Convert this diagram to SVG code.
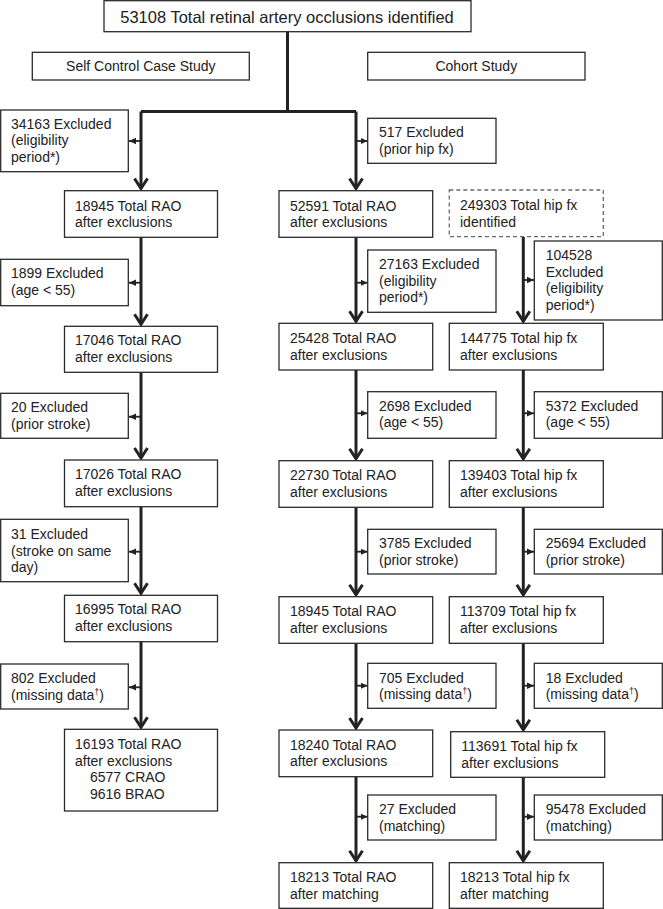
<svg xmlns="http://www.w3.org/2000/svg" width="663" height="909" viewBox="0 0 663 909">
<style>
  .bx { fill: #fff; stroke: #2b2b2b; stroke-width: 1.3; }
  .dash { fill: #fff; stroke: #6a6a6a; stroke-width: 1.3; stroke-dasharray: 4 3; }
  text { font-family: "Liberation Sans", Arial, sans-serif; font-size: 14px; fill: #222; }
  .title { font-size: 16.5px; }
  .mid { text-anchor: middle; }
  .main { stroke: #222; stroke-width: 3; fill: none; }
  .side { stroke: #222; stroke-width: 1.8; fill: none; }
  .sup { font-size: 9px; }
</style>
<defs>
  <marker id="down" markerUnits="userSpaceOnUse" markerWidth="16" markerHeight="18" refX="12" refY="9" orient="auto" viewBox="0 0 16 18">
    <path d="M2,2.5 L12,9 L2,15.5" fill="none" stroke="#222" stroke-width="3" stroke-linejoin="miter"/>
  </marker>
  <marker id="tri" markerUnits="userSpaceOnUse" markerWidth="8" markerHeight="8" refX="7" refY="4" orient="auto" viewBox="0 0 8 8">
    <path d="M0,0.8 L7,4 L0,7.2 Z" fill="#222"/>
  </marker>
</defs>

<g id="connectors">
  <path class="main" d="M287.5,31.7 V111.5 M141,111.5 H356"/>
  <!-- left column -->
  <path class="main" marker-end="url(#down)" d="M141,111.5 V188.5"/>
  <path class="main" marker-end="url(#down)" d="M141,237.3 V324.3"/>
  <path class="main" marker-end="url(#down)" d="M141,372.3 V458"/>
  <path class="main" marker-end="url(#down)" d="M141,506.7 V593.3"/>
  <path class="main" marker-end="url(#down)" d="M141,641.7 V727.3"/>
  <path class="side" marker-end="url(#tri)" d="M141,141 H129"/>
  <path class="side" marker-end="url(#tri)" d="M141,282.7 H129"/>
  <path class="side" marker-end="url(#tri)" d="M141,416.7 H129"/>
  <path class="side" marker-end="url(#tri)" d="M141,551.7 H129"/>
  <path class="side" marker-end="url(#tri)" d="M141,687.3 H129"/>
  <!-- middle column -->
  <path class="main" marker-end="url(#down)" d="M356,111.5 V188.5"/>
  <path class="main" marker-end="url(#down)" d="M356,237.3 V321.3"/>
  <path class="main" marker-end="url(#down)" d="M356,370 V458.7"/>
  <path class="main" marker-end="url(#down)" d="M356,507.3 V594.7"/>
  <path class="main" marker-end="url(#down)" d="M356,643.3 V728"/>
  <path class="main" marker-end="url(#down)" d="M356,776.7 V860.7"/>
  <path class="side" marker-end="url(#tri)" d="M356,141 H367.5"/>
  <path class="side" marker-end="url(#tri)" d="M356,282.7 H367.5"/>
  <path class="side" marker-end="url(#tri)" d="M356,413.3 H367.5"/>
  <path class="side" marker-end="url(#tri)" d="M356,551.7 H367.5"/>
  <path class="side" marker-end="url(#tri)" d="M356,685.7 H367.5"/>
  <path class="side" marker-end="url(#tri)" d="M356,816.7 H367.5"/>
  <!-- right column -->
  <path class="main" marker-end="url(#down)" d="M523.3,236.7 V321.3"/>
  <path class="main" marker-end="url(#down)" d="M523.3,370 V458.7"/>
  <path class="main" marker-end="url(#down)" d="M523.3,507.3 V594.7"/>
  <path class="main" marker-end="url(#down)" d="M523.3,643.3 V729.7"/>
  <path class="main" marker-end="url(#down)" d="M523.3,777.3 V860.7"/>
  <path class="side" marker-end="url(#tri)" d="M523.3,280 H534"/>
  <path class="side" marker-end="url(#tri)" d="M523.3,413.3 H534"/>
  <path class="side" marker-end="url(#tri)" d="M523.3,551.7 H534"/>
  <path class="side" marker-end="url(#tri)" d="M523.3,685.7 H534"/>
  <path class="side" marker-end="url(#tri)" d="M523.3,816.7 H534"/>
</g>

<g id="n-top"><rect class="bx" x="104" y="0.7" width="367" height="31"/><text class="title mid" x="287" y="22.5">53108 Total retinal artery occlusions identified</text></g>
<g id="n-sccs"><rect class="bx" x="32.3" y="52.3" width="217" height="27.7"/><text class="mid" x="140.8" y="71">Self Control Case Study</text></g>
<g id="n-cohort"><rect class="bx" x="367.7" y="52.3" width="217.3" height="27.7"/><text class="mid" x="476.3" y="71">Cohort Study</text></g>

<!-- left column -->
<g id="l-ex1"><rect class="bx" x="0.7" y="110" width="127.6" height="61.7"/><text x="11" y="128.5">34163 Excluded</text><text x="11" y="145">(eligibility</text><text x="11" y="161.5">period*)</text></g>
<g id="l-n1"><rect class="bx" x="64.5" y="190.7" width="153" height="46.6"/><text x="75" y="210.7">18945 Total RAO</text><text x="75" y="227">after exclusions</text></g>
<g id="l-ex2"><rect class="bx" x="0.7" y="259.3" width="127.6" height="46.4"/><text x="11" y="278.3">1899 Excluded</text><text x="11" y="294.7">(age &lt; 55)</text></g>
<g id="l-n2"><rect class="bx" x="64.5" y="326.3" width="153" height="46"/><text x="75" y="345">17046 Total RAO</text><text x="75" y="361.5">after exclusions</text></g>
<g id="l-ex3"><rect class="bx" x="0.7" y="393.3" width="127.6" height="45"/><text x="11" y="412.3">20 Excluded</text><text x="11" y="428.7">(prior stroke)</text></g>
<g id="l-n3"><rect class="bx" x="64.5" y="460" width="153" height="46.7"/><text x="75" y="479.3">17026 Total RAO</text><text x="75" y="495.8">after exclusions</text></g>
<g id="l-ex4"><rect class="bx" x="0.7" y="519.3" width="127.6" height="62.4"/><text x="11" y="539">31 Excluded</text><text x="11" y="555.5">(stroke on same</text><text x="11" y="572">day)</text></g>
<g id="l-n4"><rect class="bx" x="64.5" y="595.3" width="153" height="46.4"/><text x="75" y="614.3">16995 Total RAO</text><text x="75" y="630.8">after exclusions</text></g>
<g id="l-ex5"><rect class="bx" x="0.7" y="664" width="127.6" height="45"/><text x="11" y="683.3">802 Excluded</text><text x="11" y="699.8">(missing data<tspan class="sup" dy="-5">†</tspan><tspan dy="5">)</tspan></text></g>
<g id="l-n5"><rect class="bx" x="64.5" y="729.3" width="153" height="81.7"/><text x="75" y="749">16193 Total RAO</text><text x="75" y="765.5">after exclusions</text><text x="90" y="782.3">6577 CRAO</text><text x="90" y="799">9616 BRAO</text></g>

<!-- middle column -->
<g id="m-ex1"><rect class="bx" x="367.7" y="118.3" width="128.3" height="45"/><text x="379" y="137.3">517 Excluded</text><text x="379" y="153.8">(prior hip fx)</text></g>
<g id="m-n1"><rect class="bx" x="279" y="190.7" width="153.7" height="46.6"/><text x="290" y="210.7">52591 Total RAO</text><text x="290" y="227">after exclusions</text></g>
<g id="m-ex2"><rect class="bx" x="367.7" y="250" width="128.3" height="62.3"/><text x="379" y="269.3">27163 Excluded</text><text x="379" y="285.8">(eligibility</text><text x="379" y="302.3">period*)</text></g>
<g id="m-n2"><rect class="bx" x="279" y="323.3" width="153.7" height="46.7"/><text x="290" y="343">25428 Total RAO</text><text x="290" y="359.5">after exclusions</text></g>
<g id="m-ex3"><rect class="bx" x="367.7" y="391.7" width="128.3" height="46.6"/><text x="379" y="410.7">2698 Excluded</text><text x="379" y="427.2">(age &lt; 55)</text></g>
<g id="m-n3"><rect class="bx" x="279" y="460.7" width="153.7" height="46.6"/><text x="290" y="480">22730 Total RAO</text><text x="290" y="496.5">after exclusions</text></g>
<g id="m-ex4"><rect class="bx" x="367.7" y="529.3" width="128.3" height="44.7"/><text x="379" y="548.3">3785 Excluded</text><text x="379" y="564.8">(prior stroke)</text></g>
<g id="m-n4"><rect class="bx" x="279" y="596.7" width="153.7" height="46.6"/><text x="290" y="616">18945 Total RAO</text><text x="290" y="632.5">after exclusions</text></g>
<g id="m-ex5"><rect class="bx" x="367.7" y="663.3" width="128.3" height="45"/><text x="379" y="682.5">705 Excluded</text><text x="379" y="699">(missing data<tspan class="sup" dy="-5">†</tspan><tspan dy="5">)</tspan></text></g>
<g id="m-n5"><rect class="bx" x="279" y="730" width="153.7" height="46.7"/><text x="290" y="749.5">18240 Total RAO</text><text x="290" y="766">after exclusions</text></g>
<g id="m-ex6"><rect class="bx" x="367.7" y="795" width="128.3" height="45"/><text x="379" y="814">27 Excluded</text><text x="379" y="830.5">(matching)</text></g>
<g id="m-n6"><rect class="bx" x="279" y="862.7" width="153.7" height="45.6"/><text x="290" y="882">18213 Total RAO</text><text x="290" y="898.5">after matching</text></g>

<!-- right column -->
<g id="r-n0"><rect class="dash" x="449.3" y="190" width="154" height="46.7"/><text x="460" y="210.3">249303 Total hip fx</text><text x="460" y="226.8">identified</text></g>
<g id="r-ex1"><rect class="bx" x="534.3" y="241" width="128" height="79"/><text x="545.7" y="260">104528</text><text x="545.7" y="276.5">Excluded</text><text x="545.7" y="293">(eligibility</text><text x="545.7" y="309.5">period*)</text></g>
<g id="r-n1"><rect class="bx" x="449.3" y="323.3" width="154" height="46.7"/><text x="460" y="343">144775 Total hip fx</text><text x="460" y="359.5">after exclusions</text></g>
<g id="r-ex2"><rect class="bx" x="534.3" y="391.7" width="128" height="46.6"/><text x="545.7" y="410.7">5372 Excluded</text><text x="545.7" y="427.2">(age &lt; 55)</text></g>
<g id="r-n2"><rect class="bx" x="449.3" y="460.7" width="154" height="46.6"/><text x="460" y="480">139403 Total hip fx</text><text x="460" y="496.5">after exclusions</text></g>
<g id="r-ex3"><rect class="bx" x="534.3" y="529.3" width="128" height="44.7"/><text x="545.7" y="548.3">25694 Excluded</text><text x="545.7" y="564.8">(prior stroke)</text></g>
<g id="r-n3"><rect class="bx" x="449.3" y="596.7" width="154" height="46.6"/><text x="460" y="616">113709 Total hip fx</text><text x="460" y="632.5">after exclusions</text></g>
<g id="r-ex4"><rect class="bx" x="534.3" y="663.3" width="128" height="45"/><text x="545.7" y="682.5">18 Excluded</text><text x="545.7" y="699">(missing data<tspan class="sup" dy="-5">†</tspan><tspan dy="5">)</tspan></text></g>
<g id="r-n4"><rect class="bx" x="450.7" y="731.7" width="154" height="45.6"/><text x="461.3" y="751">113691 Total hip fx</text><text x="461.3" y="767.5">after exclusions</text></g>
<g id="r-ex5"><rect class="bx" x="534.3" y="795" width="128" height="45"/><text x="545.7" y="814">95478 Excluded</text><text x="545.7" y="830.5">(matching)</text></g>
<g id="r-n5"><rect class="bx" x="449.3" y="862.7" width="154" height="45.6"/><text x="460" y="882">18213 Total hip fx</text><text x="460" y="898.5">after matching</text></g>
</svg>
